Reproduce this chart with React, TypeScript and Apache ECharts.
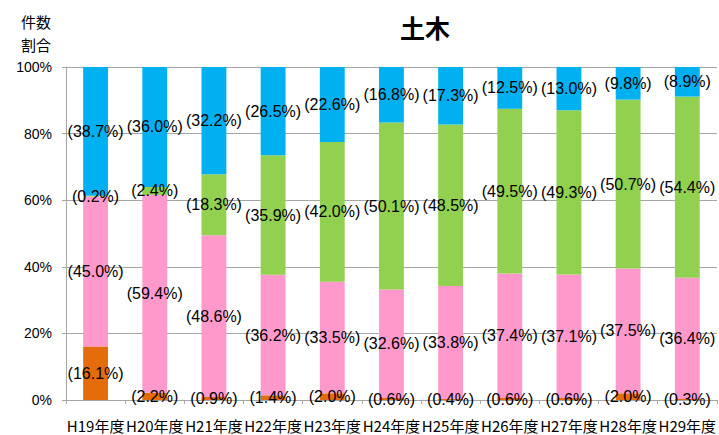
import React, { useEffect, useRef } from "react";
import * as echarts from "echarts";

const categories = ["H19年度", "H20年度", "H21年度", "H22年度", "H23年度", "H24年度", "H25年度", "H26年度", "H27年度", "H28年度", "H29年度"];
const orangeValues = [16.1, 2.2, 0.9, 1.4, 2.0, 0.6, 0.4, 0.6, 0.6, 2.0, 0.3];
const pinkValues = [45.0, 59.4, 48.6, 36.2, 33.5, 32.6, 33.8, 37.4, 37.1, 37.5, 36.4];
const greenValues = [0.2, 2.4, 18.3, 35.9, 42.0, 50.1, 48.5, 49.5, 49.3, 50.7, 54.4];
const blueValues = [38.7, 36.0, 32.2, 26.5, 22.6, 16.8, 17.3, 12.5, 13.0, 9.8, 8.9];
const yTicks = [0, 20, 40, 60, 80, 100];
const titleText = "土木";
const yAxisTitle = "件数\n割合";

export default function App() {
  const ref = useRef<HTMLDivElement>(null);
  useEffect(() => {
    if (!ref.current) return;
    const chart = echarts.init(ref.current, null, { renderer: "svg" });
    const labelCfg = {
      show: true,
      position: "inside" as const,
      color: "#000",
      fontFamily: "Liberation Sans",
      fontSize: 16,
      formatter: (p: any) => "(" + Number(p.value).toFixed(1) + "%)",
    };
    const mk = (name: string, data: number[], color: string) => ({
      name,
      type: "bar",
      stack: "total",
      data,
      barWidth: "42%",
      itemStyle: { color },
      label: labelCfg,
      emphasis: { disabled: true },
    });
    chart.setOption({
      animation: false,
      backgroundColor: "#fff",
      title: {
        text: titleText,
        left: 395,
        top: 9,
        textStyle: { fontFamily: "Noto Sans CJK JP", fontSize: 25, fontWeight: "bold", color: "#000" },
      },
      graphic: [
        {
          type: "text",
          left: 21,
          top: 10,
          style: {
            text: yAxisTitle,
            fontFamily: "Noto Sans CJK JP",
            fontSize: 15,
            lineHeight: 23,
            fill: "#000",
          },
        },
      ],
      grid: { left: 66, right: 0, top: 67, bottom: 35, containLabel: false },
      xAxis: {
        type: "category",
        data: categories,
        axisLine: { show: true, lineStyle: { color: "#a6a6a6" } },
        axisTick: { show: true, length: 4, lineStyle: { color: "#a6a6a6" } },
        axisLabel: { color: "#000", fontFamily: "Noto Sans CJK JP", fontSize: 15, margin: 18, interval: 0 },
      },
      yAxis: {
        type: "value",
        min: 0,
        max: 100,
        interval: 20,
        axisLine: { show: true, lineStyle: { color: "#a6a6a6" } },
        axisTick: { show: true, length: 4, lineStyle: { color: "#a6a6a6" } },
        splitLine: { show: true, lineStyle: { color: "#a6a6a6" } },
        axisLabel: {
          color: "#000",
          fontFamily: "Liberation Sans",
          fontSize: 14,
          margin: 14,
          formatter: (v: number) => (yTicks.includes(v) ? v + "%" : ""),
        },
      },
      series: [
        mk("orange", orangeValues, "#E46C0A"),
        mk("pink", pinkValues, "#FF99CC"),
        mk("green", greenValues, "#92D050"),
        mk("blue", blueValues, "#00B0F0"),
      ],
    });
    return () => chart.dispose();
  }, []);
  return <div ref={ref} style={{ position: "fixed", left: 0, top: 0, width: 719, height: 435 }} />;
}
